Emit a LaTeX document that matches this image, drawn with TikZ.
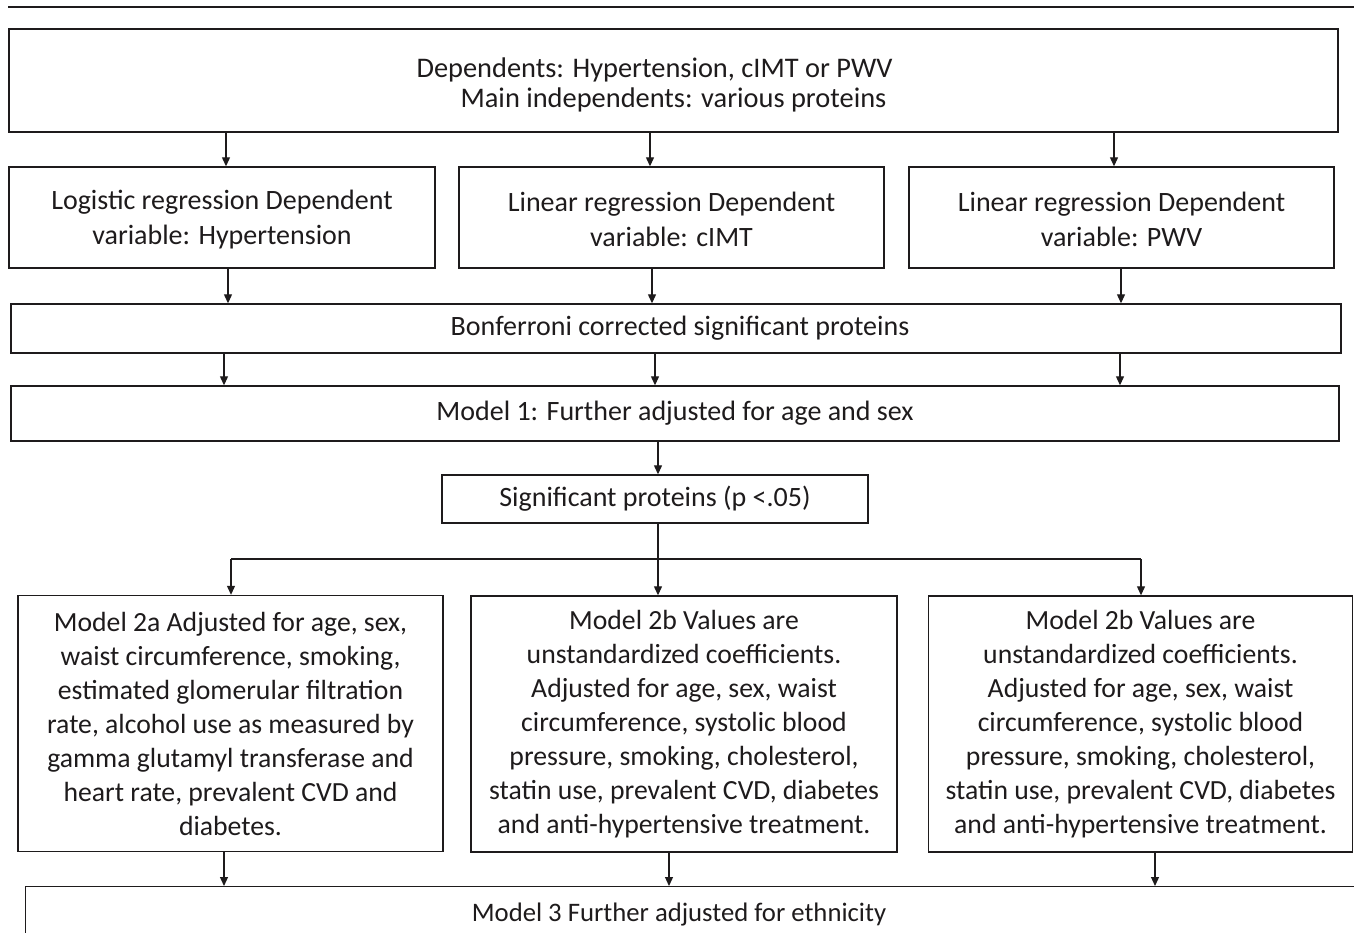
\documentclass[tikz,border=0pt]{standalone}
\usepackage{fontspec}
\setmainfont{Carlito}
\usetikzlibrary{arrows.meta}
\definecolor{ink}{HTML}{1E1B1C}
\begin{document}
\begin{tikzpicture}[x=1pt,y=-1pt,
  box/.style={draw=ink, line width=1.4pt, rectangle, inner sep=0pt, align=center, text=ink, font=\fontsize{28}{34}\selectfont},
  txt/.style={inner sep=0pt, align=center, text=ink, font=\fontsize{28}{35}\selectfont},
  ln/.style={draw=ink, line width=1.2pt},
  arr/.style={draw=ink, line width=1.2pt, -{Triangle[width=8pt,length=9pt]}}]
\clip (0,0) rectangle (1354,932);
\fill[white] (0,0) rectangle (1354,932);
\draw[ink, line width=2.5pt] (8,7) -- (1354,7);
% top box
\node[box, minimum width=1329, minimum height=103] (top) at (673.5,80.5) {};
\node[txt, font=\fontsize{28.4}{30}\selectfont] (topt) at ([yshift=-4.5pt]top.center)
  {Dependents: Hypertension, cIMT or PWV\hspace*{38pt}\\Main independents: various proteins};
% row 2
\node[box, minimum width=426, minimum height=101] (a2) at (222,217.5) {};
\node[txt] (a2t) at ([yshift=-2.5pt]a2.center) {Logistic regression Dependent\\variable: Hypertension};
\node[box, minimum width=425, minimum height=101] (b2) at (671.5,217.5) {};
\node[txt] (b2t) at ([yshift=-2pt]b2.center) {Linear regression Dependent\\variable: cIMT};
\node[box, minimum width=425, minimum height=101] (c2) at (1121.5,217.5) {};
\node[txt] (c2t) at ([yshift=-2pt]c2.center) {Linear regression Dependent\\variable: PWV};
% bonferroni
\node[box, minimum width=1330, minimum height=49] (bonf) at (676,328.5) {};
\node[txt] (bonft) at ([xshift=4pt]bonf.center) {Bonferroni corrected significant proteins};
% model 1
\node[box, minimum width=1328, minimum height=55] (m1) at (675,413.5)
  {Model 1: Further adjusted for age and sex};
% significant
\node[box, minimum width=426, minimum height=48] (sig) at (655,499)
  {Significant proteins (p <.05)};
% row 3
\node[box, minimum width=425, minimum height=256, font=\fontsize{27.7}{34}\selectfont] (a3) at (230.5,723.5)
  {Model 2a Adjusted for age, sex,\\waist circumference, smoking,\\estimated glomerular filtration\\rate, alcohol use as measured by\\gamma glutamyl transferase and\\heart rate, prevalent CVD and\\diabetes.};
\node[box, minimum width=426, minimum height=256, font=\fontsize{27.7}{34}\selectfont] (b3) at (684,724)
  {Model 2b Values are\\unstandardized coefficients.\\Adjusted for age, sex, waist\\circumference, systolic blood\\pressure, smoking, cholesterol,\\statin use, prevalent CVD, diabetes\\and anti-hypertensive treatment.};
\node[box, minimum width=424, minimum height=256, font=\fontsize{27.7}{34}\selectfont] (c3) at (1140.5,724)
  {Model 2b Values are\\unstandardized coefficients.\\Adjusted for age, sex, waist\\circumference, systolic blood\\pressure, smoking, cholesterol,\\statin use, prevalent CVD, diabetes\\and anti-hypertensive treatment.};
% model 3
\node[box, minimum width=1345, minimum height=80, anchor=north west] (m3) at (25,886) {};
\node[txt, font=\fontsize{26.7}{34}\selectfont] (m3t) at (679,915) {Model 3 Further adjusted for ethnicity};
% arrows top -> row 2
\draw[arr] (top.south -| 226,0) -- (a2.north -| 226,0);
\draw[arr] (top.south -| 650,0) -- (b2.north -| 650,0);
\draw[arr] (top.south -| 1114,0) -- (c2.north -| 1114,0);
% row 2 -> bonf
\draw[arr] (a2.south -| 228,0) -- (bonf.north -| 228,0);
\draw[arr] (b2.south -| 652,0) -- (bonf.north -| 652,0);
\draw[arr] (c2.south -| 1121,0) -- (bonf.north -| 1121,0);
% bonf -> m1
\draw[arr] (bonf.south -| 224,0) -- (m1.north -| 224,0);
\draw[arr] (bonf.south -| 655,0) -- (m1.north -| 655,0);
\draw[arr] (bonf.south -| 1120,0) -- (m1.north -| 1120,0);
% m1 -> sig
\draw[arr] (m1.south -| 658,0) -- (sig.north -| 658,0);
% split
\coordinate (split) at (658,559);
\coordinate (splitL) at (231,559);
\coordinate (splitR) at (1141,559);
\draw[ln] (sig.south -| split) -- (split);
\draw[ln] (splitL) -- (splitR);
\draw[arr] (splitL) -- (a3.north -| splitL);
\draw[arr] (split) -- (b3.north -| split);
\draw[arr] (splitR) -- (c3.north -| splitR);
% row 3 -> m3
\draw[arr] (a3.south -| 224,0) -- (m3.north -| 224,0);
\draw[arr] (b3.south -| 669,0) -- (m3.north -| 669,0);
\draw[arr] (c3.south -| 1155,0) -- (m3.north -| 1155,0);
\end{tikzpicture}
\end{document}
